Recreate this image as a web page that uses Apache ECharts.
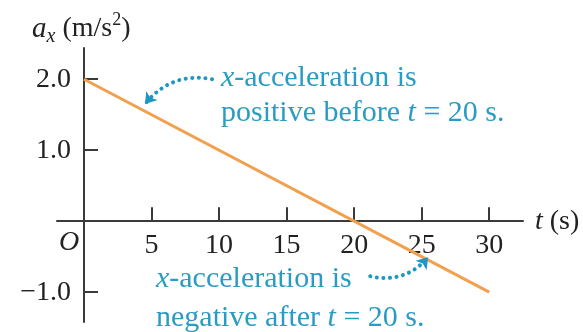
<!DOCTYPE html>
<html>
<head>
<meta charset="utf-8">
<script src="https://cdn.jsdelivr.net/npm/echarts@6/dist/echarts.min.js"></script>
<style>
  html, body { margin: 0; padding: 0; background: #fff; }
  #chart { width: 583px; height: 332px; }
</style>
</head>
<body>
<div id="chart"></div>
<script>
// x-acceleration versus time: a straight line from +2.0 at t = 0 to -1.0 at t = 30 s
const timeS = [0, 30];
const accel = [2.0, -1.0];

// tick positions on each axis
const tTicks = [5, 10, 15, 20, 25, 30];
const aTicks = [-1.0, 1.0, 2.0];

// callout arrows, [start, end] in (t, a_x) coordinates, with their bend
const calloutArrows = [
  { from: [9.48, 2.0], to: [4.52, 1.65], curveness: -0.3 },
  { from: [21.19, -0.775], to: [25.48, -0.507], curveness: -0.3 }
];

const SERIF = '"Liberation Serif", "Times New Roman", serif';
const AXIS = '#3a3a3a';
const TEAL = '#2a9cc4';
const ORANGE = '#f1a04e';
const FS = 28;
const NOTE_FS = 30;

// plot box and axis ranges
const W = 583, H = 332;
const G = { left: 57, right: 60, top: 48, bottom: 10 };
const X_RANGE = [-2, 32.5];
const Y_RANGE = [-1.42, 2.44];

// the axes cross at the origin: shift each axis inward from the plot edge to zero
const plotW = W - G.left - G.right;
const plotH = H - G.top - G.bottom;
const xAxisShift = -plotH * (0 - Y_RANGE[0]) / (Y_RANGE[1] - Y_RANGE[0]);
const yAxisShift = -plotW * (0 - X_RANGE[0]) / (X_RANGE[1] - X_RANGE[0]);

const chart = echarts.init(document.getElementById('chart'), null, { renderer: 'canvas' });

const option = {
  animation: false,
  backgroundColor: '#fff',
  grid: { left: G.left, right: G.right, top: G.top, bottom: G.bottom, containLabel: false, outerBoundsMode: 'none' },
  xAxis: {
    type: 'value',
    position: 'bottom',
    offset: xAxisShift,
    min: X_RANGE[0],
    max: X_RANGE[1],
    splitLine: { show: false },
    axisLine: { show: true, onZero: false, lineStyle: { color: AXIS, width: 2 } },
    axisTick: { show: true, inside: true, length: 14, customValues: tTicks, lineStyle: { color: AXIS, width: 2 } },
    axisLabel: {
      show: true, customValues: tTicks, margin: 10,
      fontFamily: SERIF, fontSize: FS, color: '#222'
    },
    name: '{i|t} (s)',
    nameLocation: 'end',
    nameGap: 12,
    nameTextStyle: {
      fontFamily: SERIF, fontSize: FS, color: '#222', align: 'left', verticalAlign: 'middle',
      rich: { i: { fontFamily: SERIF, fontSize: FS, fontStyle: 'italic', color: '#222' } }
    }
  },
  yAxis: {
    type: 'value',
    position: 'left',
    offset: yAxisShift,
    min: Y_RANGE[0],
    max: Y_RANGE[1],
    splitLine: { show: false },
    axisLine: { show: true, onZero: false, lineStyle: { color: AXIS, width: 2 } },
    axisTick: { show: true, inside: true, length: 14, customValues: aTicks, lineStyle: { color: AXIS, width: 2 } },
    axisLabel: {
      show: true, customValues: aTicks, margin: 13,
      fontFamily: SERIF, fontSize: FS, color: '#222',
      formatter: v => (v < 0 ? '\u2212' : '') + Math.abs(v).toFixed(1)
    }
  },
  graphic: [
    // vertical axis title: a_x (m/s^2)
    { type: 'text', left: 32, top: 11, silent: true,
      style: {
        text: '{a|a}{sub|x}{n| (m/s}{sup|2}{n|)}',
        rich: {
          a: { fontFamily: SERIF, fontSize: 29, fontStyle: 'italic', fill: '#222', lineHeight: 36, verticalAlign: 'middle' },
          sub: { fontFamily: SERIF, fontSize: 20, fontStyle: 'italic', fill: '#222', lineHeight: 36, verticalAlign: 'bottom' },
          n: { fontFamily: SERIF, fontSize: 28, fill: '#222', lineHeight: 36, verticalAlign: 'middle' },
          sup: { fontFamily: SERIF, fontSize: 18, fill: '#222', lineHeight: 36, verticalAlign: 'top' }
        }
      }
    },
    // origin label
    { type: 'text', left: 59, top: 229, silent: true,
      style: { text: 'O', fontFamily: SERIF, fontSize: FS, fontStyle: 'italic', fill: '#222' } },
    // upper callout text
    { type: 'text', left: 221, top: 61, silent: true,
      style: {
        text: '{i|x}-acceleration is\npositive before {i|t} = 20 s.',
        fontFamily: SERIF, fontSize: NOTE_FS, fill: TEAL, lineHeight: 35,
        rich: { i: { fontFamily: SERIF, fontSize: NOTE_FS, fontStyle: 'italic', fill: TEAL, lineHeight: 35 } }
      }
    },
    // lower callout text
    { type: 'text', left: 156, top: 260, silent: true,
      style: {
        text: '{i|x}-acceleration is\nnegative after {i|t} = 20 s.',
        fontFamily: SERIF, fontSize: NOTE_FS, fill: TEAL, lineHeight: 39,
        rich: { i: { fontFamily: SERIF, fontSize: NOTE_FS, fontStyle: 'italic', fill: TEAL, lineHeight: 39 } }
      }
    }
  ],
  series: [
    {
      type: 'line',
      data: timeS.map((t, i) => [t, accel[i]]),
      showSymbol: false,
      symbol: 'none',
      lineStyle: { color: ORANGE, width: 3 },
      z: 3
    },
    {
      type: 'lines',
      coordinateSystem: 'cartesian2d',
      polyline: false,
      symbol: ['none', 'arrow'],
      symbolSize: 11,
      data: calloutArrows.map(a => ({
        coords: [a.from, a.to],
        lineStyle: { curveness: a.curveness }
      })),
      lineStyle: { color: '#1f97c3', width: 4, type: [0.1, 6.5], cap: 'round', opacity: 1 },
      z: 4
    }
  ]
};

chart.setOption(option);
</script>
</body>
</html>
